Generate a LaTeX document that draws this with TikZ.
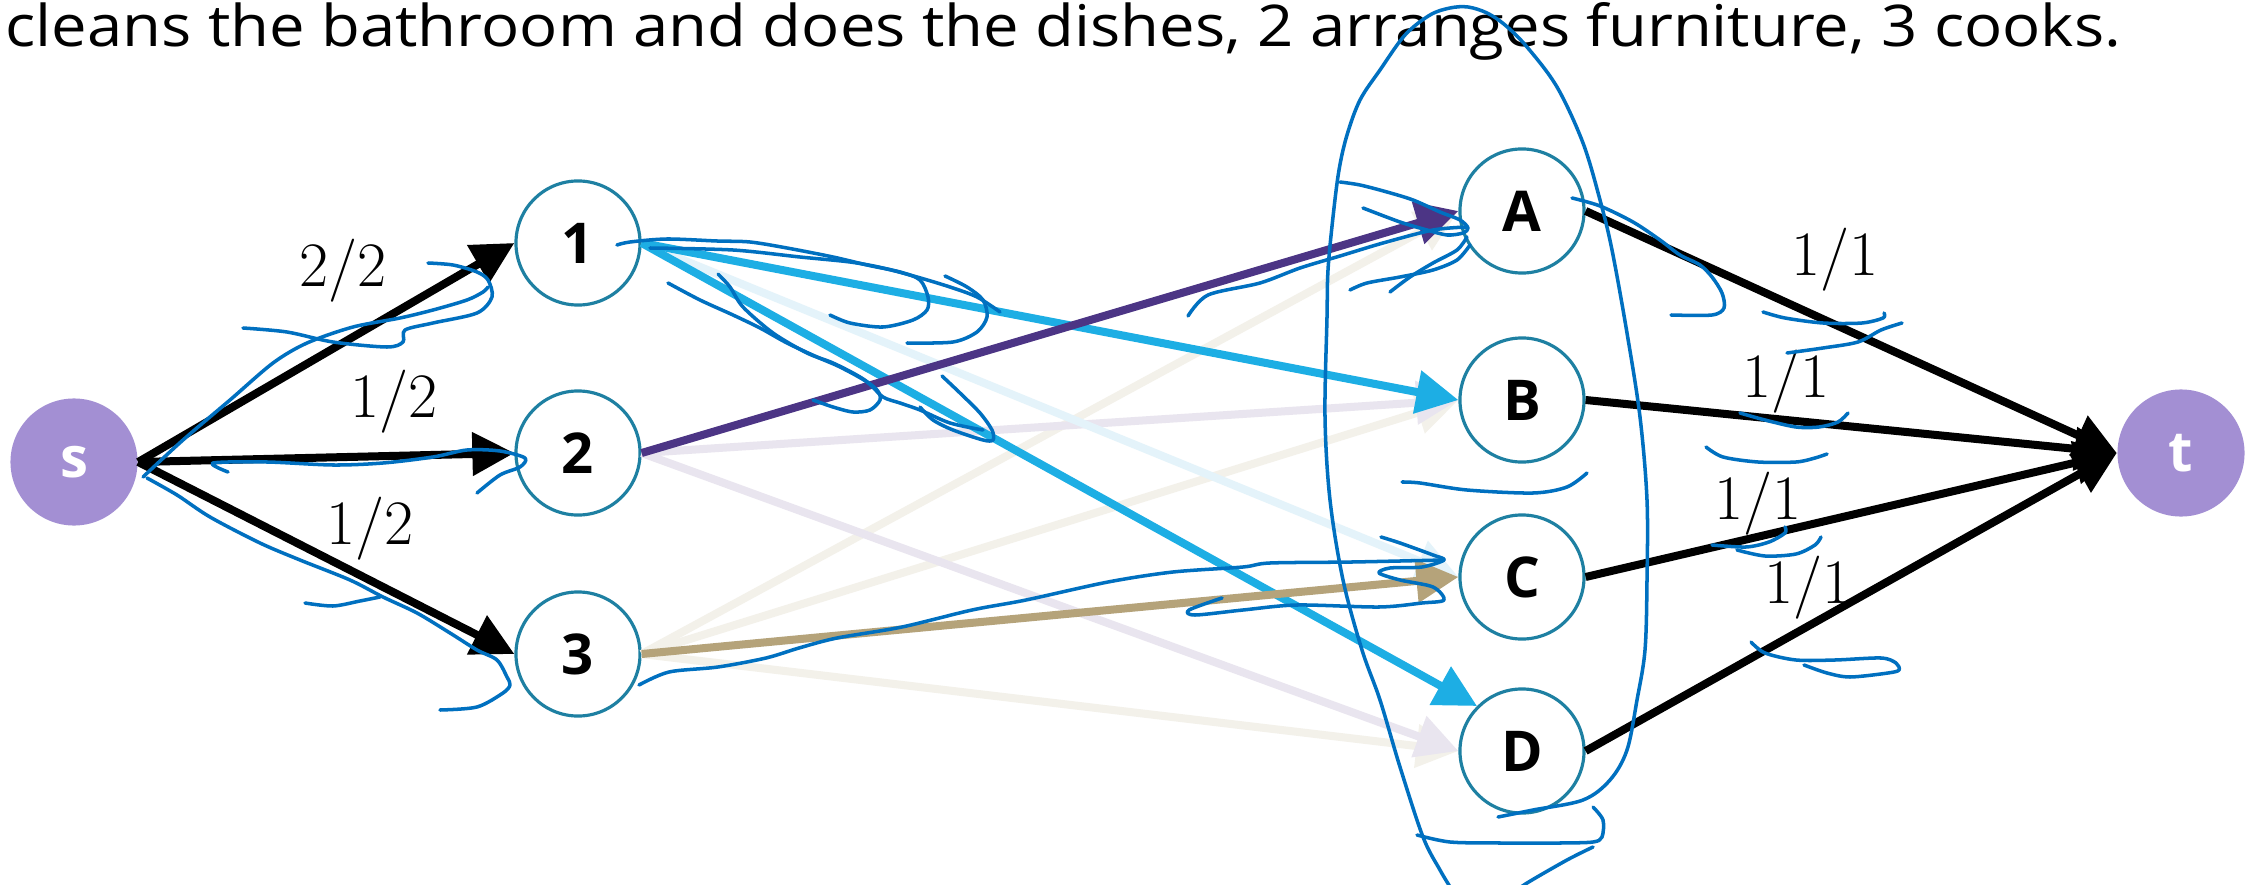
\documentclass[tikz,border=0pt]{standalone}
\usepackage{fontspec}
\usetikzlibrary{arrows.meta}
\newfontfamily\osans{Open Sans}
\definecolor{nodeline}{HTML}{1E80A2}
\definecolor{stfill}{HTML}{A38FD3}
\definecolor{eblue}{HTML}{1DAEE4}
\definecolor{epurple}{HTML}{4C3585}
\definecolor{etan}{HTML}{B5A37A}
\definecolor{fblue}{HTML}{E4F3FA}
\definecolor{flav}{HTML}{E9E5EF}
\definecolor{fbeige}{HTML}{F3F1EA}
\definecolor{inkc}{HTML}{0070C0}
\begin{document}
\begin{tikzpicture}[x=0.01cm,y=-0.01cm,
  vnode/.style={circle, draw=nodeline, line width=0.9pt, fill=white, minimum size=1.24cm, inner sep=0pt, font=\osans\bfseries\fontsize{16}{16}\selectfont},
  stnode/.style={circle, fill=stfill, minimum size=1.27cm, inner sep=0pt, text=white, font=\osans\bfseries\fontsize{16}{16}\selectfont},
  flow/.style={line width=0.08cm, -{Triangle[length=4.2mm,width=4.2mm]}},
  lab/.style={font=\fontsize{18}{18}\selectfont, inner sep=0pt, anchor=base},
  inkline/.style={draw=inkc, line width=1pt, line cap=round, line join=round}]
\clip (0,0) rectangle (2254,885);
\fill[white] (0,0) rectangle (2254,885);
% title
\node[anchor=base west, inner sep=0pt] (title) at (5,47) {\resizebox{21.14cm}{0.44cm}{\osans\fontsize{16}{16}\selectfont cleans the bathroom and does the dishes, 2 arranges furniture, 3 cooks.}};
% nodes
\node[stnode] (s) at (74,462) {s};
\node[stnode] (t) at (2181,453) {t};
\node[vnode] (n1) at (578,243) {1};
\node[vnode] (n2) at (578,453) {2};
\node[vnode] (n3) at (578,654) {3};
\node[vnode] (nA) at (1522,211) {A};
\node[vnode] (nB) at (1522,400) {B};
\node[vnode] (nC) at (1522,577) {C};
\node[vnode] (nD) at (1522,751) {D};
% faint edges
\draw[flow, fbeige] (n3.east) -- (nA.west);
\draw[flow, fbeige] (n3.east) -- (nB.west);
\draw[flow, fbeige] (n3.east) -- (nD.west);
\draw[flow, flav] (n2.east) -- (nB.west);
\draw[flow, flav] (n2.east) -- (nD.west);
\draw[flow, fblue] (n1.east) -- (nC.west);
% strong middle edges
\draw[flow, eblue] (n1.east) -- (nB.west);
\draw[flow, eblue] (n1.east) -- (nD.north west);
\draw[flow, epurple] (n2.east) -- (nA.west);
\draw[flow, etan] (n3.east) -- (nC.west);
% source and sink edges
\draw[flow, black] (s.east) -- (n1.west);
\draw[flow, black] (s.east) -- (n2.west);
\draw[flow, black] (s.east) -- (n3.west);
\draw[flow, black] (nA.east) -- (t.west);
\draw[flow, black] (nB.east) -- (t.west);
\draw[flow, black] (nC.east) -- (t.west);
\draw[flow, black] (nD.east) -- (t.west);
% labels
\node[lab] (l1) at (343,287) {2/2};
\node[lab] (l2) at (394,417) {1/2};
\node[lab] (l3) at (370,544) {1/2};
\node[lab] (l4) at (1835,275) {1/1};
\node[lab] (l5) at (1786,397) {1/1};
\node[lab] (l6) at (1758,519) {1/1};
\node[lab] (l7) at (1808,603) {1/1};
% ink annotations
\draw[inkline] plot[smooth, tension=0.55] coordinates {(1498,817) (1533,810) (1583,800) (1610,780) (1627,750) (1637,700) (1645,650) (1647,580) (1647,500) (1640,417) (1627,333) (1612,250) (1600,200) (1583,143) (1557,87) (1527,47) (1505,25) (1487,13) (1468,7) (1450,8) (1430,15) (1405,35) (1380,70) (1360,100) (1347,135) (1339,170) (1333,217) (1328,270) (1327,317) (1325,417) (1330,500) (1343,580) (1362,650) (1380,700) (1400,767) (1423,837) (1440,870) (1452,890)};
\draw[inkline] plot[smooth, tension=0.5] coordinates {(1417,835) (1450,842) (1500,843) (1560,843) (1593,842) (1602,837) (1603,820) (1593,807)};
\draw[inkline] plot[smooth, tension=0.5] coordinates {(1593,847) (1567,860) (1527,883) (1515,892)};
% s edges
\draw[inkline] plot[smooth, tension=0.5] coordinates {(243,328) (287,332) (333,342) (387,347) (403,342) (405,330) (433,323) (477,313) (492,297) (488,280) (477,272) (453,265) (428,263)};
\draw[inkline] plot[smooth, tension=0.5] coordinates {(143,477) (183,440) (230,400) (273,363) (307,343) (353,327) (400,318) (433,310) (467,300) (483,292) (488,287)};
\draw[inkline] plot[smooth, tension=0.5] coordinates {(228,472) (213,463) (267,462) (333,465) (383,463) (433,457) (467,450) (500,451) (525,458) (520,467) (500,475) (477,493)};
\draw[inkline] plot[smooth, tension=0.5] coordinates {(147,478) (177,495) (210,517) (260,543) (300,560) (350,580) (383,597) (417,613) (450,633) (477,650) (497,660) (507,677) (510,685) (503,693) (477,707) (440,710)};
\draw[inkline] plot[smooth, tension=0.5] coordinates {(305,603) (333,606) (360,601) (380,597)};
% around node 1
\draw[inkline] plot[smooth, tension=0.5] coordinates {(617,245) (630,242) (667,239) (717,241) (750,242) (787,248) (833,257) (867,265) (900,272) (920,280) (928,297) (927,310) (913,320) (883,327) (850,323) (830,315)};
\draw[inkline] plot[smooth, tension=0.5] coordinates {(650,248) (733,250) (800,257) (850,262) (883,268) (917,277) (950,287) (977,297) (1000,312)};
\draw[inkline] plot[smooth, tension=0.5] coordinates {(945,276) (967,287) (983,300) (987,317) (977,332) (953,342) (907,343)};
\draw[inkline] plot[smooth, tension=0.5] coordinates {(718,274) (730,287) (743,307) (773,333) (807,353) (833,363) (860,377) (877,390) (880,400) (870,410) (853,412) (833,407) (813,400)};
\draw[inkline] plot[smooth, tension=0.5] coordinates {(668,283) (700,300) (733,315) (760,328) (787,343) (817,357) (840,367) (867,382) (883,397) (900,403) (920,410) (950,423) (983,430)};
\draw[inkline] plot[smooth, tension=0.5] coordinates {(942,376) (960,393) (980,413) (992,430) (993,440) (983,440) (953,430) (933,420) (920,407)};
% along 3 -> C
\draw[inkline] plot[smooth, tension=0.5] coordinates {(639,685) (669,672) (718,667) (766,658) (799,648) (837,638) (902,627) (972,610) (1026,600) (1108,582) (1173,572) (1243,567) (1270,563) (1352,562) (1444,560)};
\draw[inkline] plot[smooth, tension=0.5] coordinates {(1381,537) (1400,543) (1433,555) (1444,560) (1422,567) (1390,568) (1379,573) (1400,580) (1433,587) (1444,600) (1422,603) (1379,607) (1297,605) (1243,610) (1195,615) (1189,610) (1222,598)};
% around A
\draw[inkline] plot[smooth, tension=0.5] coordinates {(1340,182) (1360,185) (1387,192) (1413,200) (1440,212) (1460,220) (1468,228) (1463,233) (1447,235) (1427,230) (1400,222) (1363,208)};
\draw[inkline] plot[smooth, tension=0.5] coordinates {(1467,237) (1457,250) (1433,263) (1410,277) (1390,292)};
\draw[inkline] plot[smooth, tension=0.5] coordinates {(1350,290) (1367,283) (1400,277) (1433,270) (1457,260) (1470,245)};
\draw[inkline] plot[smooth, tension=0.5] coordinates {(1188,316) (1208,295) (1260,283) (1300,268) (1340,256) (1383,243) (1433,230) (1467,227)};
\draw[inkline] plot[smooth, tension=0.5] coordinates {(1572,198) (1600,206) (1633,222) (1660,240) (1680,255) (1700,265) (1712,277) (1722,293) (1724,308) (1712,315) (1671,315)};
\draw[inkline] plot[smooth, tension=0.5] coordinates {(1402,482) (1420,483) (1467,490) (1533,493) (1567,487) (1587,473)};
% right labels
\draw[inkline] plot[smooth, tension=0.5] coordinates {(1763,312) (1785,318) (1823,323) (1862,323) (1883,318) (1884,313)};
\draw[inkline] plot[smooth, tension=0.5] coordinates {(1787,353) (1823,348) (1858,342) (1881,330) (1902,323)};
\draw[inkline] plot[smooth, tension=0.5] coordinates {(1740,413) (1765,420) (1796,427) (1819,427) (1838,422) (1848,413)};
\draw[inkline] plot[smooth, tension=0.5] coordinates {(1706,447) (1723,457) (1758,462) (1796,462) (1815,458) (1827,454)};
\draw[inkline] plot[smooth, tension=0.5] coordinates {(1712,545) (1746,547) (1769,542) (1785,533) (1785,527)};
\draw[inkline] plot[smooth, tension=0.5] coordinates {(1737,550) (1765,556) (1796,554) (1815,545) (1821,537)};
\draw[inkline] plot[smooth, tension=0.5] coordinates {(1751,642) (1765,653) (1796,660) (1835,660) (1881,658) (1896,663) (1899,670) (1888,673) (1850,677) (1827,673) (1804,665)};
\end{tikzpicture}
\end{document}
